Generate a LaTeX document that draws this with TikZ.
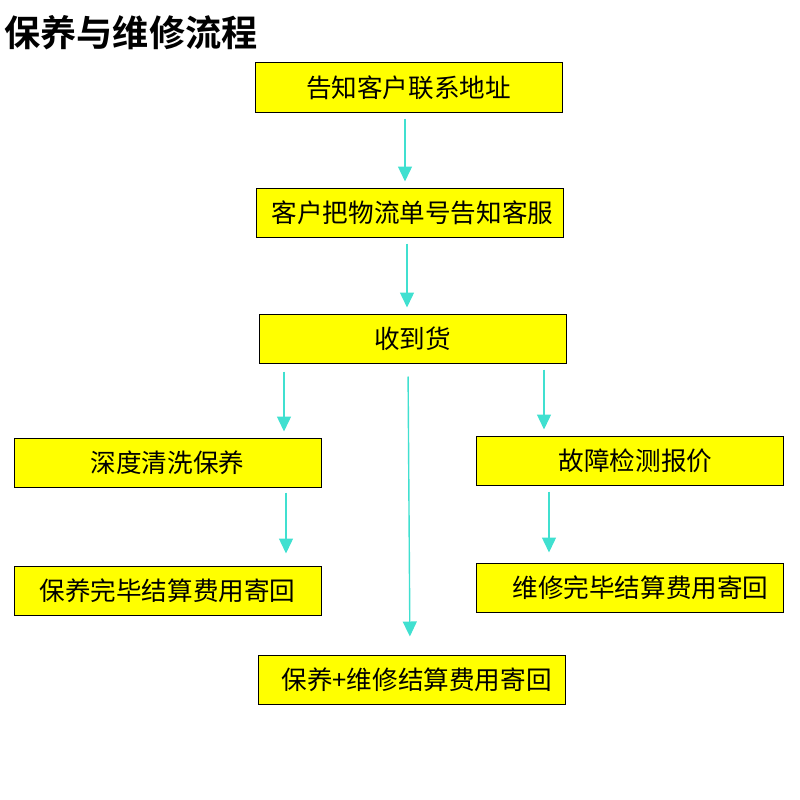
\documentclass[tikz,border=0pt]{standalone}
\usepackage{fontspec}
\setmainfont{Noto Sans CJK SC}
\newfontfamily\cjkbold{Noto Sans CJK SC Bold}
\usetikzlibrary{arrows.meta}
\definecolor{boxyellow}{HTML}{FFFF00}
\definecolor{arrowcol}{HTML}{40E0D0}
\tikzset{
  flowbox/.style={draw=black, line width=1pt, fill=boxyellow, minimum width=307pt, minimum height=49pt, inner sep=0pt, font=\fontsize{25.6}{28}\selectfont},
  titletext/.style={font=\cjkbold\fontsize{36.2}{40}\selectfont, anchor=west, inner sep=0pt},
  arr/.style={draw=arrowcol, line width=1.4pt, -{Triangle[width=14pt,length=15pt]}, shorten <=6pt, shorten >=6pt}
}
\begin{document}
\begin{tikzpicture}[x=1pt,y=-1pt]
\useasboundingbox (0,0) rectangle (800,800);
\node[titletext] (title) at (4,33) {保养与维修流程};
\node[flowbox] (n1) at (408.5,87.5) {告知客户联系地址};
\node[flowbox] (n2) at (409.5,212.5) {\hspace*{6pt}客户把物流单号告知客服};
\node[flowbox] (n3) at (412.5,338.5) {收到货};
\node[flowbox] (n4) at (167.5,462.5) {深度清洗保养};
\node[flowbox] (n5) at (629.5,460.5) {\hspace*{12pt}故障检测报价};
\node[flowbox] (n6) at (167.5,590.5) {保养完毕结算费用寄回};
\node[flowbox] (n7) at (629.5,587.5) {\hspace*{22pt}维修完毕结算费用寄回};
\node[flowbox] (n8) at (411.5,679.5) {\hspace*{10pt}保养+维修结算费用寄回};
\draw[arr] (n1.south -| 405,0) -- (n2.north -| 405,0);
\draw[arr] (n2.south -| 407,0) -- (n3.north -| 407,0);
\draw[arr, shorten <=8pt] (n3.south -| 284,0) -- (n4.north -| 284,0);
\draw[arr, shorten <=6pt] (n3.south -| 544,0) -- (n5.north -| 544,0);
\draw[arr, shorten <=13pt, shorten >=18pt] (n3.south -| 408,0) -- (n8.north -| 410,0);
\draw[arr, shorten <=5pt, shorten >=12pt] (n4.south -| 286,0) -- (n6.north -| 286,0);
\draw[arr, shorten <=6pt, shorten >=10pt] (n5.south -| 549,0) -- (n7.north -| 549,0);
\end{tikzpicture}
\end{document}
